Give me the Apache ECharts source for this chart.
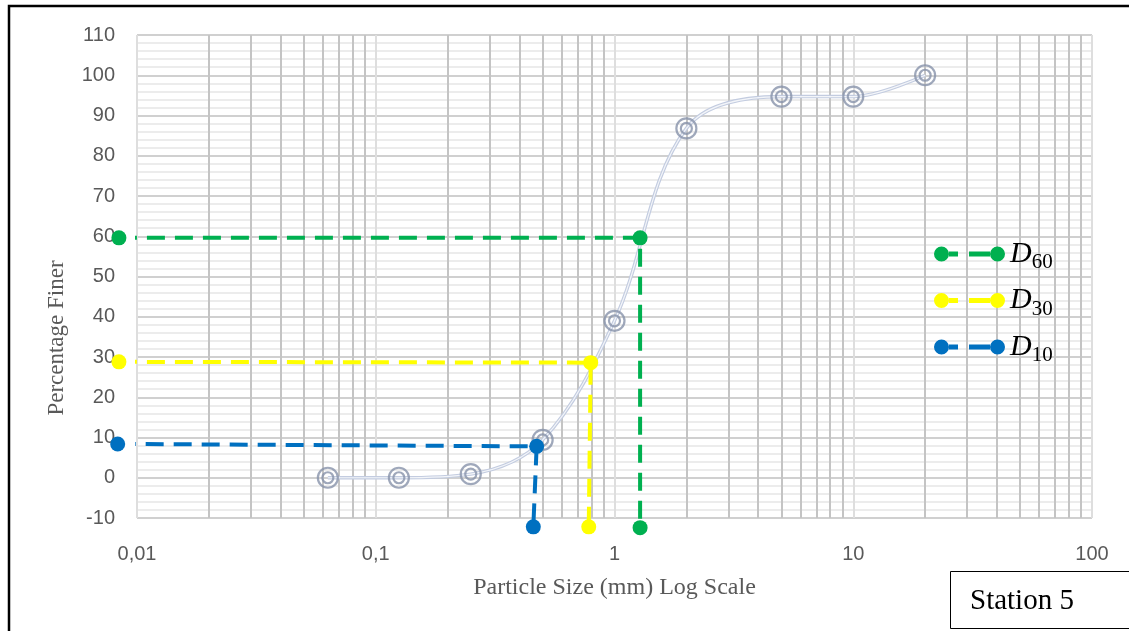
<!DOCTYPE html>
<html><head><meta charset="utf-8">
<script src="https://cdn.jsdelivr.net/npm/echarts@6/dist/echarts.min.js"></script>
<style>html,body{margin:0;padding:0;background:#fff}#c{width:1129px;height:631px}</style>
</head><body><div id="c"></div>
<script>
// ---- data ----
const sizes = [0.063, 0.125, 0.25, 0.5, 1, 2, 5, 10, 20];
const finer = [0, 0, 0.9, 9.4, 39, 86.8, 94.7, 94.7, 100];
const d60 = [[0.0084, 59.6], [1.28, 59.6], [1.28, -12.4]];
const d30 = [[0.0084, 28.8], [0.795, 28.6], [0.78, -12.2]];
const d10 = [[0.0083, 8.4], [0.472, 7.8], [0.457, -12.2]];
const minorGridX = [0.02,0.03,0.04,0.05,0.06,0.07,0.08,0.09,
                    0.2,0.3,0.4,0.5,0.6,0.7,0.8,0.9,
                    2,3,4,5,6,7,8,9,
                    20,30,40,50,60,70,80,90];
const xTickLabels = {'0.01':'0,01','0.1':'0,1','1':'1','10':'10','100':'100'};
const legendNames = ['D60', 'D30', 'D10'];
const dColors = {D60:'#00b050', D30:'#ffff00', D10:'#0070c0'};

const curve = sizes.map((s, i) => [s, finer[i]]);
const chart = echarts.init(document.getElementById('c'), null, {renderer:'canvas'});

const dSeries = (name, data) => ({
  type:'line', name, data, clip:false, symbol:'circle', symbolSize:15,
  lineStyle:{color:dColors[name], width:4, type:[18,10]},
  itemStyle:{color:dColors[name]}, z:6
});

chart.setOption({
  animation:false,
  grid:{left:137, right:37, top:35, bottom:113, containLabel:false},
  xAxis:{
    type:'log', logBase:10, min:0.01, max:100,
    axisLine:{show:false}, axisTick:{show:false},
    axisLabel:{color:'#595959', fontSize:20, fontFamily:'Liberation Sans', margin:26,
      formatter: v => xTickLabels[String(+v.toPrecision(6))] || String(v).replace('.', ',')},
    splitLine:{show:true, lineStyle:{color:'#dedede', width:2}},
    name:'Particle Size (mm) Log Scale', nameLocation:'middle', nameGap:58,
    nameTextStyle:{fontFamily:'Liberation Serif', fontSize:24, color:'#595959'}
  },
  yAxis:{
    type:'value', min:-10, max:110, interval:10,
    axisLine:{show:false}, axisTick:{show:false},
    axisLabel:{color:'#595959', fontSize:20, fontFamily:'Liberation Sans', margin:22},
    splitLine:{show:true, lineStyle:{color:'#d0d0d0', width:2}},
    minorTick:{show:false, splitNumber:5},
    minorSplitLine:{show:true, lineStyle:{color:'#ececec', width:2}}
  },
  legend:{
    data:legendNames, orient:'vertical', left:929, top:234, itemGap:12.5,
    itemWidth:71, itemHeight:15,
    icon:'path://M0,7.5A7.5,7.5,0,1,1,15,7.5A7.5,7.5,0,1,1,0,7.5Z M15,5L24,5L24,10L15,10Z M35,5L56,5L56,10L35,10Z M56,7.5A7.5,7.5,0,1,1,71,7.5A7.5,7.5,0,1,1,56,7.5Z',
    formatter: n => '{d|D}{s|' + n.slice(1) + '}',
    textStyle:{
      rich:{
        d:{fontFamily:'Liberation Serif', fontStyle:'italic', fontSize:30, lineHeight:38, color:'#000'},
        s:{fontFamily:'Liberation Serif', fontSize:21, lineHeight:21, verticalAlign:'bottom', color:'#000'}
      }
    }
  },
  graphic:[
    {type:'polyline', shape:{points:[[9,631],[9,6],[1129,6]]}, style:{stroke:'#000', lineWidth:2.5, fill:null}, z:100},
    {type:'text', x:57, y:338, rotation:Math.PI/2,
      style:{text:'Percentage Finer', font:'23px "Liberation Serif"', fill:'#595959', align:'center', verticalAlign:'middle'}},
    {type:'rect', shape:{x:950.5, y:571.5, width:200, height:57}, style:{fill:'#fff', stroke:'#000', lineWidth:1}, z:100},
    {type:'text', x:970, y:601, style:{text:'Station 5', font:'29px "Liberation Serif"', fill:'#000', verticalAlign:'middle'}, z:101}
  ],
  series:[
    {type:'line', name:'curve', data:curve, smooth:0.35, symbol:'none', z:2,
      lineStyle:{color:'#c3cce0', width:3.5},
      markLine:{silent:true, symbol:['none','none'], z:1, label:{show:false},
        lineStyle:{type:'solid', color:'#c4c4c4', width:2},
        emphasis:{disabled:true},
        data:minorGridX.map(v => ({xAxis:v}))}},
    {type:'line', name:'curveInner', data:curve, smooth:0.35, symbol:'none', z:3,
      lineStyle:{color:'#f3f5f9', width:1.2}},
    {type:'scatter', name:'ringOuter', data:curve, symbol:'circle', symbolSize:20, z:4,
      itemStyle:{color:'rgba(255,255,255,0)', borderColor:'#8792aa', borderWidth:2.2}},
    {type:'scatter', name:'ringInner', data:curve, symbol:'circle', symbolSize:11, z:4,
      itemStyle:{color:'rgba(255,255,255,0)', borderColor:'#8792aa', borderWidth:2.2}},
    dSeries('D60', d60),
    dSeries('D30', d30),
    dSeries('D10', d10)
  ]
});
</script></body></html>
